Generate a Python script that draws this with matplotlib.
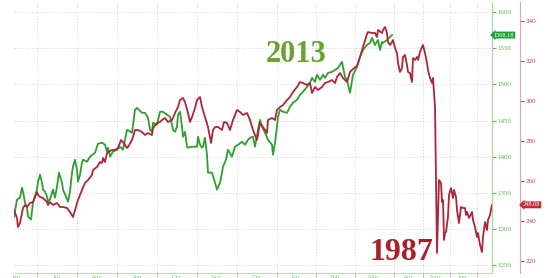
import matplotlib
matplotlib.use("Agg")
import matplotlib.pyplot as plt
import matplotlib.transforms as mtransforms

# ---- data (x = trading session index) ----
g_day = [0, 3, 6, 8, 9, 11, 13, 14, 17, 19, 23, 24, 26, 28, 29, 31, 33, 34, 36, 38, 39, 41,
         43, 45, 48, 49, 52, 54, 56, 58, 59, 61, 63, 64, 66, 68, 69, 73, 76, 81, 84, 88, 91,
         93, 94, 96, 99, 103, 106, 109, 113, 118, 121, 123, 128, 131, 134, 136, 138, 139,
         143, 146, 149, 153, 156, 158, 159, 161, 163, 164, 166, 168, 169, 171, 173, 174,
         178, 183, 184, 186, 188, 189, 191, 193, 194, 198, 201, 203, 206, 208, 209, 212,
         214, 218, 221, 224, 228, 231, 234, 236, 239, 241, 244, 246, 248, 251, 254, 258,
         259, 261, 263, 264, 266, 269, 273, 276, 279, 283, 286, 289, 293, 296, 298, 301,
         303, 306, 309, 311, 314, 318, 321, 324, 328, 331, 333, 336, 339, 343, 346, 349,
         353, 356, 358, 361, 364, 366, 368, 369, 373, 376, 378]
g_val = [1317.5, 1340.9, 1343.7, 1357.5, 1352.0, 1336.8, 1329.9, 1317.5, 1313.4, 1336.8,
         1354.7, 1365.7, 1375.4, 1364.4, 1354.7, 1352.0, 1345.1, 1338.2, 1340.9, 1350.6,
         1354.7, 1343.7, 1358.8, 1378.1, 1364.4, 1354.7, 1345.1, 1338.2, 1352.0, 1378.1,
         1386.4, 1396.1, 1382.3, 1365.7, 1375.4, 1391.9, 1396.1, 1393.3, 1400.2, 1405.7,
         1418.1, 1419.5, 1416.7, 1407.1, 1412.6, 1400.2, 1407.1, 1409.8, 1414.0, 1409.8,
         1437.4, 1433.3, 1465.0, 1467.7, 1460.8, 1460.8, 1453.9, 1437.4, 1434.6, 1447.0,
         1444.3, 1462.2, 1462.2, 1458.1, 1455.3, 1444.3, 1437.4, 1434.6, 1441.5, 1458.1,
         1462.2, 1441.5, 1427.7, 1434.6, 1414.0, 1412.6, 1414.0, 1414.0, 1427.7, 1416.7,
         1412.6, 1414.0, 1426.4, 1402.9, 1378.1, 1378.1, 1364.4, 1354.7, 1364.4, 1378.1,
         1386.4, 1396.1, 1409.8, 1400.2, 1414.0, 1416.7, 1420.9, 1416.7, 1423.6, 1426.4,
         1427.7, 1414.0, 1437.4, 1451.2, 1441.5, 1433.3, 1423.6, 1416.7, 1402.9, 1419.5,
         1441.5, 1455.3, 1465.0, 1462.2, 1460.8, 1469.1, 1474.6, 1478.7, 1485.6, 1489.8,
         1496.6, 1502.2, 1509.1, 1503.5, 1513.2, 1506.3, 1513.2, 1509.1, 1515.9, 1517.3,
         1520.1, 1522.8, 1531.1, 1510.4, 1506.3, 1488.4, 1513.2, 1524.2, 1538.0, 1547.6,
         1554.5, 1557.3, 1564.2, 1554.5, 1561.4, 1547.6, 1558.7, 1557.3, 1561.4, 1565.5,
         1568.18]

r_day = [0, 3, 4, 6, 8, 9, 11, 13, 16, 19, 23, 24, 26, 29, 33, 34, 36, 39, 43, 46, 49, 53,
         56, 59, 61, 64, 68, 71, 74, 78, 79, 83, 86, 88, 89, 91, 93, 94, 98, 101, 104, 107,
         109, 113, 114, 118, 121, 124, 128, 131, 134, 138, 139, 143, 146, 148, 151, 154,
         158, 161, 164, 166, 169, 171, 174, 176, 178, 181, 183, 186, 188, 191, 194, 197,
         199, 201, 204, 208, 210, 213, 216, 219, 223, 226, 229, 233, 236, 239, 243, 246,
         249, 253, 254, 258, 261, 263, 266, 269, 273, 276, 279, 283, 286, 289, 293, 296,
         298, 301, 304, 308, 311, 314, 318, 321, 323, 326, 329, 333, 336, 339, 343, 346,
         349, 353, 354, 358, 361, 363, 364, 368, 369, 371, 373, 374, 376, 378, 379, 381,
         383, 384, 386, 388, 389, 391, 393, 394, 396, 398, 399, 401, 403, 404, 406, 408,
         409, 411, 413, 414, 416, 418, 419, 420, 421, 422, 423, 425, 427, 428, 429, 430,
         431, 432, 434, 435, 437, 439, 440, 442, 443, 445, 447, 449, 451, 452, 453, 455,
         458, 459, 461, 463, 464, 466, 468, 469, 471, 473, 474, 476, 478]
r_val = [245.5, 241.5, 237.0, 239.0, 244.0, 246.5, 248.0, 247.0, 249.0, 249.5, 254.5, 253.0,
         252.0, 251.5, 249.5, 248.0, 249.5, 248.0, 249.0, 247.0, 247.0, 246.5, 244.5, 242.0,
         245.5, 250.5, 255.5, 259.0, 260.5, 263.0, 265.5, 267.0, 269.5, 269.0, 271.5, 269.5,
         274.0, 274.5, 275.5, 275.5, 276.5, 280.5, 279.5, 276.5, 277.0, 280.5, 285.5, 285.5,
         284.5, 283.0, 284.0, 283.0, 286.5, 289.0, 289.5, 290.5, 291.5, 289.5, 290.5, 294.0,
         297.0, 300.5, 301.5, 299.5, 294.0, 289.5, 292.0, 296.5, 300.5, 302.0, 297.0, 292.0,
         287.0, 279.0, 285.5, 287.0, 287.0, 285.5, 289.5, 289.0, 285.5, 290.5, 295.5, 294.5,
         293.0, 294.0, 290.5, 285.5, 280.5, 289.0, 287.0, 284.0, 290.5, 291.5, 290.5, 295.5,
         297.0, 298.0, 300.5, 302.0, 304.5, 307.0, 309.5, 309.0, 308.0, 309.0, 304.0, 307.0,
         305.5, 307.0, 309.0, 309.5, 310.5, 309.0, 312.0, 314.0, 311.5, 309.5, 314.5, 316.0,
         317.5, 322.0, 327.0, 333.5, 334.5, 334.0, 334.0, 332.0, 335.5, 334.0, 335.5, 337.0,
         334.0, 329.5, 328.0, 329.5, 330.5, 326.5, 324.0, 319.0, 314.5, 316.5, 322.0, 323.0,
         318.0, 314.5, 314.0, 309.5, 321.5, 320.5, 322.0, 320.5, 324.5, 327.0, 328.0, 324.0,
         319.0, 315.5, 311.5, 309.0, 311.5, 304.0, 297.0, 260.5, 224.0, 260.5, 259.0, 249.5,
         250.5, 230.5, 234.0, 234.5, 242.0, 253.0, 256.5, 251.5, 255.5, 252.0, 245.5, 239.0,
         247.0, 246.5, 246.5, 243.0, 244.5, 241.5, 244.5, 240.5, 237.0, 232.0, 234.0, 228.0,
         224.5, 232.0, 239.5, 235.5, 240.5, 243.0, 248.08]

g_ticks = [1250, 1300, 1350, 1400, 1450, 1500, 1550, 1600]
r_ticks = [220, 240, 260, 280, 300, 320, 340]
x_ticks = [23, 63, 103, 143, 183, 223, 263, 302, 341, 380, 409, 436, 463]
x_label_pos = [3, 43, 83, 123, 163, 203, 243, 282, 321, 360, 394, 422, 449]
x_labels = ["Jan", "Jul", "Aug", "Sep", "Oct", "Nov", "Dec", "Jan", "Feb", "Mar", "Apr", "May", "Jun"]

G_LINE = "#2f9e2f"
R_LINE = "#ad2538"
G_TXT = "#5aae4a"
R_TXT = "#b5404a"

W, H = 548, 278
fig = plt.figure(figsize=(W / 100, H / 100), dpi=100)
ax = fig.add_axes([14 / W, 5 / H, 478 / W, 271 / H])
ax.set_facecolor("white")
ax2 = ax.twinx()

ax.plot(g_day, g_val, color=G_LINE, lw=1.3, zorder=4)
ax2.plot(r_day, r_val, color=R_LINE, lw=1.3, zorder=3)

ax.set_xlim(0, 478)
ax.set_ylim(1239.6, 1613.8)
ax2.set_ylim(214, 349.5)

ax.yaxis.tick_right()
ax.set_yticks(g_ticks)
ax2.set_yticks(r_ticks)
ax.tick_params(axis="y", which="both", length=3, width=0.8, color=G_TXT, pad=1,
               labelsize=5, labelcolor=G_TXT, labelfontfamily="Liberation Serif",
               left=False, labelleft=False, right=True, labelright=True)
ax2.tick_params(axis="y", which="both", length=3, width=0.8, color=R_TXT, pad=1,
                labelsize=5, labelcolor=R_TXT, labelfontfamily="Liberation Serif")

ax.set_xticks(x_ticks)
ax.tick_params(axis="x", length=3, width=0.6, color="#aaaaaa", labelbottom=False)
ax.grid(True, color="#cfcfcf", linestyle=(0, (1, 2)), linewidth=0.7)
ax.set_axisbelow(True)

# bottom (cut-off) month labels
trans = mtransforms.blended_transform_factory(ax.transData, fig.transFigure)
for p, lab in zip(x_label_pos, x_labels):
    ax.text(p, 3.2 / H, lab, transform=trans, fontsize=5, color="#8ac88a",
            ha="center", va="top", family="Liberation Serif", clip_on=False)

for s in ["left", "top"]:
    ax.spines[s].set_visible(False)
    ax2.spines[s].set_visible(False)
ax.spines["bottom"].set_color("#b7ddb0")
ax2.spines["bottom"].set_visible(False)
ax.spines["right"].set_color("#a6d49a")
ax2.spines["right"].set_position(("axes", (520 - 14) / 478))
ax2.spines["right"].set_color("#d7a9ad")

# value boxes
tg = mtransforms.blended_transform_factory(ax.transAxes, ax.transData)
ax.text(1.004, g_val[-1], f"{g_val[-1]:.2f}", transform=tg, fontsize=4.6, color="white",
        ha="left", va="center", family="Liberation Serif", clip_on=False, zorder=10,
        bbox=dict(boxstyle="larrow,pad=0.15", fc="#1f9e3a", ec="none"))
tr = mtransforms.blended_transform_factory(ax2.transAxes, ax2.transData)
ax2.text((521 - 14) / 478 + 0.004, r_val[-1], f"{r_val[-1]:.2f}", transform=tr, fontsize=4.6,
         color="white", ha="left", va="center", family="Liberation Serif", clip_on=False,
         zorder=10, bbox=dict(boxstyle="larrow,pad=0.15", fc="#c8283a", ec="none"))

fig.text(296 / W, 1 - 54.5 / H, "2013", fontsize=22, fontweight="bold", color="#6aa232",
         family="Liberation Serif", ha="center", va="center")
fig.text(401 / W, 1 - 253 / H, "1987", fontsize=23, fontweight="bold", color="#a8202e",
         family="Liberation Serif", ha="center", va="center")

fig.savefig("out.png", dpi=100)
